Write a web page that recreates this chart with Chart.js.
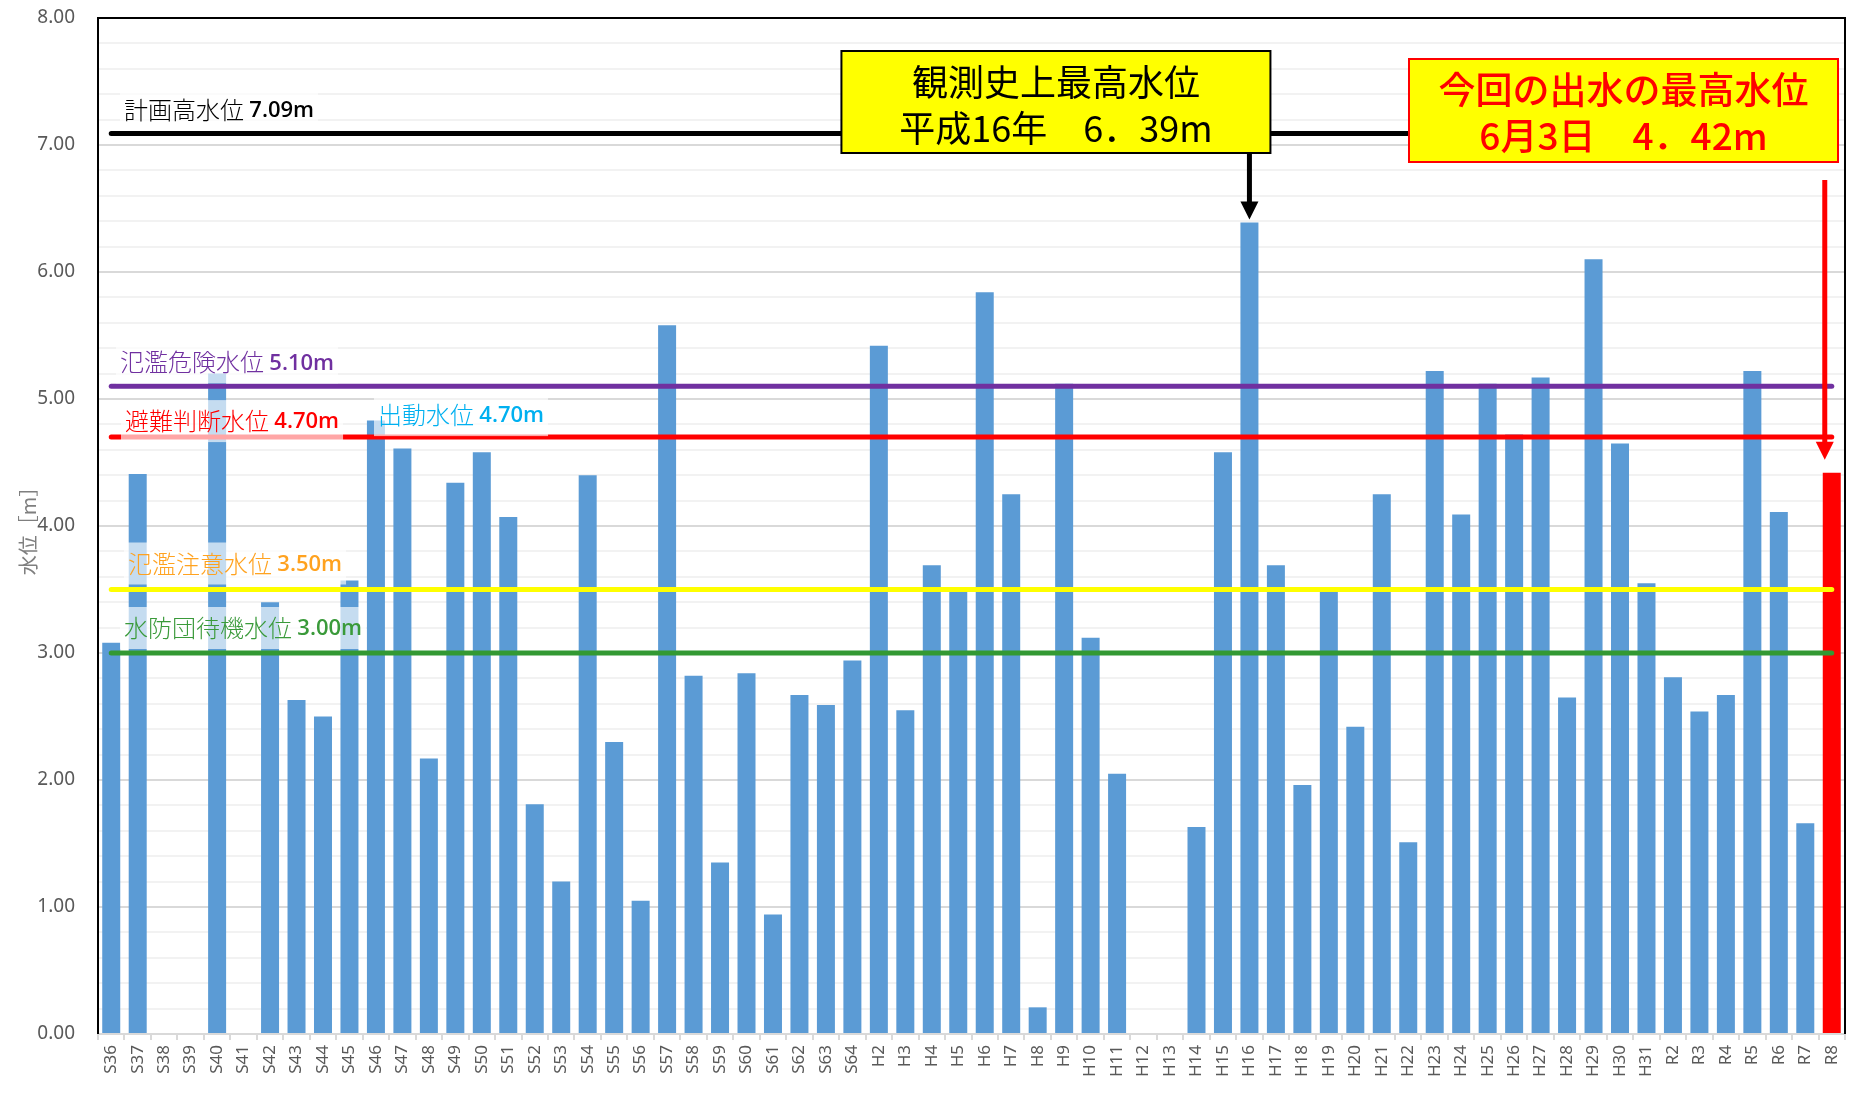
<!DOCTYPE html>
<html>
<head>
<meta charset="utf-8">
<script src="https://cdn.jsdelivr.net/npm/chart.js@4.4.1/dist/chart.umd.min.js"></script>
<style>
html, body { margin: 0; padding: 0; background: #fff; }
</style>
</head>
<body>
<canvas id="myChart" width="1865" height="1102"></canvas>
<script>
// 年ごとの最高水位
const years = ['S36','S37','S38','S39','S40','S41','S42','S43','S44','S45','S46','S47','S48','S49','S50',
  'S51','S52','S53','S54','S55','S56','S57','S58','S59','S60','S61','S62','S63','S64',
  'H2','H3','H4','H5','H6','H7','H8','H9','H10','H11','H12','H13','H14','H15','H16','H17','H18','H19','H20',
  'H21','H22','H23','H24','H25','H26','H27','H28','H29','H30','H31',
  'R2','R3','R4','R5','R6','R7','R8'];
const waterLevels = [3.08, 4.41, null, null, 5.20, null, 3.40, 2.63, 2.50, 3.57, 4.83, 4.61, 2.17, 4.34, 4.58,
  4.07, 1.81, 1.20, 4.40, 2.30, 1.05, 5.58, 2.82, 1.35, 2.84, 0.94, 2.67, 2.59, 2.94,
  5.42, 2.55, 3.69, 3.50, 5.84, 4.25, 0.21, 5.12, 3.12, 2.05, null, null, 1.63, 4.58, 6.39, 3.69, 1.96, 3.50, 2.42,
  4.25, 1.51, 5.22, 4.09, 5.12, 4.72, 5.17, 2.65, 6.10, 4.65, 3.55,
  2.81, 2.54, 2.67, 5.22, 4.11, 1.66, 4.42];

// 基準水位（線）
const thresholdValues = [7.09, 5.10, 4.70, 3.50, 3.00];
const thresholdColors = ['#000000', '#7030A0', '#FF0000', '#FFFF00', '#339933'];

// 基準水位のラベル
const labelNames = ['計画高水位', '氾濫危険水位', '避難判断水位', '出動水位', '氾濫注意水位', '水防団待機水位'];
const labelLevels = [7.09, 5.10, 4.70, 4.70, 3.50, 3.00];
const labelColors = ['#000000', '#7030A0', '#FF0000', '#00B0F0', '#FFA21F', '#3A9A3A'];
const labelDx = [26, 22, 27, 280, 30, 26];
const labelDy = [24, 24, 16, 22, 26, 25];

// 吹き出し
const recordCategory = 'H16';
const recordText = ['観測史上最高水位', '平成16年　6．39m'];
const latestCategory = 'R8';
const latestText = ['今回の出水の最高水位', '6月3日　4．42m'];

const barColors = years.map(y => y === latestCategory ? '#FF0000' : '#5B9BD5');
const isMajor = v => Math.abs(v - Math.round(v)) < 1e-6;

function drawArrow(ctx, x, y1, y2, color) {
  const headW = 18, headL = 18;
  ctx.strokeStyle = color;
  ctx.fillStyle = color;
  ctx.lineWidth = 5;
  ctx.lineCap = 'butt';
  ctx.beginPath();
  ctx.moveTo(x, y1);
  ctx.lineTo(x, y2 - headL + 1);
  ctx.stroke();
  ctx.beginPath();
  ctx.moveTo(x - headW / 2, y2 - headL);
  ctx.lineTo(x + headW / 2, y2 - headL);
  ctx.lineTo(x, y2);
  ctx.closePath();
  ctx.fill();
}

function drawCallout(ctx, left, top, w, h, border, color, font, lines) {
  ctx.fillStyle = '#FFFF00';
  ctx.fillRect(left, top, w, h);
  ctx.strokeStyle = border;
  ctx.lineWidth = 2;
  ctx.strokeRect(left, top, w, h);
  ctx.fillStyle = color;
  ctx.font = font;
  ctx.textAlign = 'center';
  ctx.textBaseline = 'middle';
  ctx.fillText(lines[0], left + w / 2, top + 31);
  ctx.fillText(lines[1], left + w / 2, top + 77);
}

const overlay = {
  id: 'overlay',
  afterDatasetsDraw(chart) {
    const {ctx, chartArea: a, scales: {x, y}} = chart;
    const x0 = x.getPixelForValue(0);
    const x1 = x.getPixelForValue(years.length - 1);
    ctx.save();

    // 基準水位の線
    ctx.lineCap = 'round';
    ctx.lineWidth = 5;
    thresholdValues.forEach((v, i) => {
      const py = y.getPixelForValue(v);
      ctx.strokeStyle = thresholdColors[i];
      ctx.beginPath();
      ctx.moveTo(x0, py);
      ctx.lineTo(x1, py);
      ctx.stroke();
    });

    // ラベル
    ctx.textBaseline = 'middle';
    ctx.textAlign = 'left';
    labelNames.forEach((name, i) => {
      const py = y.getPixelForValue(labelLevels[i]) - labelDy[i];
      const px = a.left + labelDx[i];
      const num = labelLevels[i].toFixed(2) + 'm';
      ctx.font = '300 24px "Noto Sans CJK JP"';
      const w1 = ctx.measureText(name + ' ').width;
      ctx.font = '600 22px "Open Sans"';
      const w2 = ctx.measureText(num).width;
      ctx.fillStyle = 'rgba(255,255,255,0.65)';
      ctx.fillRect(px - 4, py - 21, w1 + w2 + 8, 42);
      ctx.fillStyle = labelColors[i];
      ctx.font = '300 24px "Noto Sans CJK JP"';
      ctx.fillText(name, px, py);
      ctx.font = '600 22px "Open Sans"';
      ctx.fillText(num, px + w1, py + 1);
    });

    // 枠
    ctx.strokeStyle = '#000';
    ctx.lineWidth = 2;
    ctx.lineCap = 'butt';
    ctx.beginPath();
    ctx.moveTo(a.left, a.bottom);
    ctx.lineTo(a.left, a.top);
    ctx.lineTo(a.right, a.top);
    ctx.lineTo(a.right, a.bottom);
    ctx.stroke();

    // 観測史上最高水位
    const ri = years.indexOf(recordCategory);
    const rx = x.getPixelForValue(ri);
    const ry = y.getPixelForValue(waterLevels[ri]);
    drawCallout(ctx, rx + 21 - 429, a.top + 33, 429, 102, '#000', '#000', '36px "Noto Sans CJK JP"', recordText);
    drawArrow(ctx, rx, a.top + 135, ry - 3, '#000');

    // 今回の出水
    const li = years.indexOf(latestCategory);
    const lx = x.getPixelForValue(li);
    const ly = y.getPixelForValue(waterLevels[li]);
    drawCallout(ctx, a.right - 7 - 429, a.top + 41, 429, 103, '#FF0000', '#FF0000', '500 37px "Noto Sans CJK JP"', latestText);
    drawArrow(ctx, lx - 7, a.top + 162, ly - 13, '#FF0000');

    ctx.restore();
  }
};

Chart.defaults.font.family = '"Noto Sans", "Noto Sans CJK JP", sans-serif';

const ctx = document.getElementById('myChart').getContext('2d');
const myChart = new Chart(ctx, {
  type: 'bar',
  data: {
    labels: years,
    datasets: [{
      label: '水位',
      data: waterLevels,
      backgroundColor: barColors,
      barPercentage: 0.68,
      categoryPercentage: 1.0
    }]
  },
  options: {
    responsive: false,
    devicePixelRatio: 1,
    animation: false,
    layout: { padding: { top: 18, right: 20, left: 0, bottom: 0 } },
    plugins: {
      legend: { display: false },
      tooltip: { enabled: false }
    },
    scales: {
      x: {
        ticks: {
          color: '#595959',
          font: { size: 17 },
          minRotation: 90,
          maxRotation: 90,
          autoSkip: false,
          padding: 5
        },
        grid: { offset: true, drawOnChartArea: false, tickLength: 6, color: '#d9d9d9', lineWidth: 2 },
        border: { color: '#d9d9d9', width: 2 },
        afterFit: s => { s.height = 68; s.paddingLeft = 0; s.paddingRight = 0; }
      },
      y: {
        min: 0,
        max: 8,
        ticks: {
          stepSize: 0.2,
          autoSkip: false,
          color: '#595959',
          font: { size: 19 },
          padding: 23,
          callback: v => isMajor(v) ? v.toFixed(2) : ''
        },
        grid: {
          drawTicks: false,
          lineWidth: 2,
          color: c => isMajor(c.tick.value) ? '#d9d9d9' : '#f2f2f2'
        },
        border: { display: false },
        title: {
          display: true,
          text: '水位［m］',
          color: '#7f7f7f',
          font: { size: 20, family: '"Noto Sans CJK JP"' },
          padding: { top: 16, bottom: 0 }
        },
        afterFit: s => { s.width = 98; s.paddingTop = 0; s.paddingBottom = 0; }
      }
    }
  },
  plugins: [overlay]
});
</script>
</body>
</html>
